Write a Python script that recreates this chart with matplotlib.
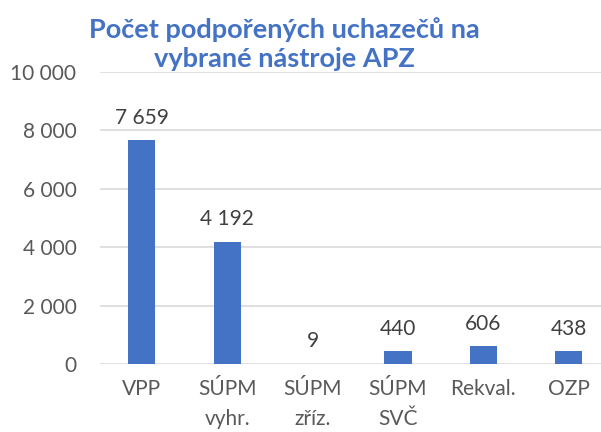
import matplotlib
matplotlib.use('Agg')
import matplotlib.pyplot as plt
from matplotlib.ticker import FuncFormatter

# data
categories = ['VPP', 'SÚPM\nvyhr.', 'SÚPM\nzříz.', 'SÚPM\nSVČ', 'Rekval.', 'OZP']
values = [7659, 4192, 9, 440, 606, 438]
title = 'Počet podpořených uchazečů na\nvybrané nástroje APZ'

plt.rcParams['font.family'] = ['Lato', 'DejaVu Sans']

blue = '#4472C4'
grid_col = '#D9D9D9'
text_col = '#595959'

def fmt(v, pos=None):
    #thousands separated by a space
    return '{:,.0f}'.format(v).replace(',', ' ')

fig = plt.figure(figsize=(6.01, 4.32), dpi=100)
ax = fig.add_axes([0.1664, 0.1574, 0.8336, 0.676])

x = range(len(categories))
bars = ax.bar(x, values, width=0.32, color=blue, zorder=3)

for b, v in zip(bars, values):
    ax.annotate(fmt(v), (b.get_x() + b.get_width() / 2, v),
                xytext=(0, 9), textcoords='offset points',
                ha='center', va='bottom', fontsize=15, color='#404040')

ax.set_ylim(0, 10000)
ax.set_yticks(range(0, 10001, 2000))
ax.yaxis.set_major_formatter(FuncFormatter(fmt))
ax.set_xlim(-0.49, 5.38)
ax.set_xticks(list(x))
ax.set_xticklabels(categories, linespacing=1.6)

ax.grid(axis='y', color=grid_col, linewidth=1.2, zorder=0)
for s in ax.spines.values():
    s.set_visible(False)
ax.tick_params(length=0, labelsize=15, labelcolor=text_col)
ax.tick_params(axis='y', pad=17)
ax.tick_params(axis='x', pad=11)

fig.text(0.474, 0.898, title, ha='center', va='center', fontsize=19.5,
         fontweight='bold', color=blue, linespacing=1.25)

fig.savefig('out.png', dpi=100)
